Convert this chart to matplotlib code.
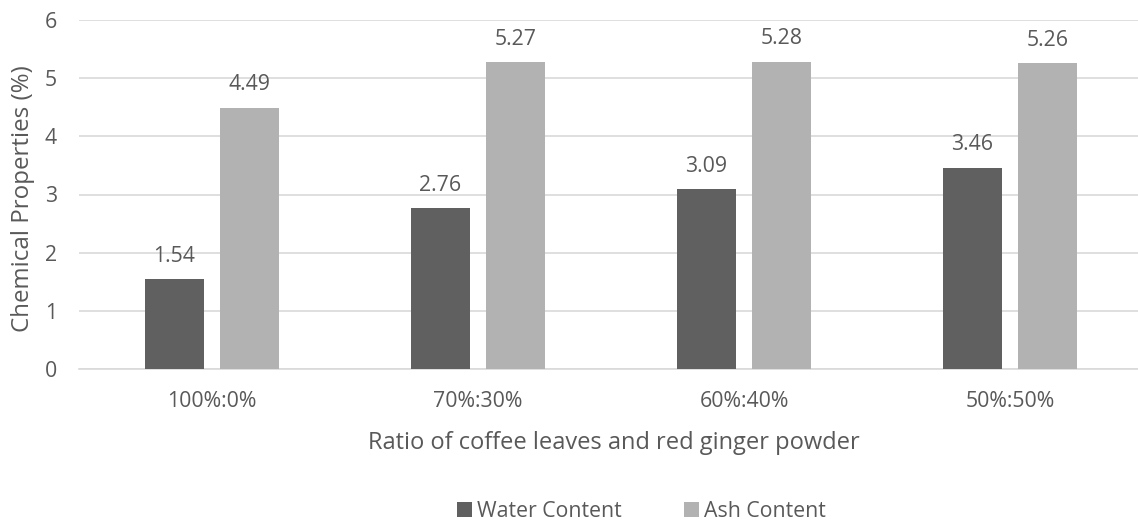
import matplotlib
matplotlib.use("Agg")
import matplotlib.pyplot as plt
import numpy as np

categories = ["100%:0%", "70%:30%", "60%:40%", "50%:50%"]
water_content = [1.54, 2.76, 3.09, 3.46]
ash_content = [4.49, 5.27, 5.28, 5.26]
series_names = ["Water Content", "Ash Content"]

plt.rcParams["font.family"] = ["Open Sans", "DejaVu Sans"]
text_color = "#595959"
dark = "#606060"
light = "#b2b2b2"
fs = 15.3

W, H = 1138, 522
fig = plt.figure(figsize=(W / 100, H / 100), dpi=100)
left_px, right_px, top_px, bottom_px = 79, 1138, 20, 369
ax = fig.add_axes([left_px / W, 1 - bottom_px / H, (right_px - left_px) / W, (bottom_px - top_px) / H])

x = np.arange(len(categories))
group_px = 266.0
width = 59 / group_px
offset = (59 + 16) / 2 / group_px

b1 = ax.bar(x - offset, water_content, width, color=dark, label=series_names[0], zorder=3)
b2 = ax.bar(x + offset, ash_content, width, color=light, label=series_names[1], zorder=3)

# value labels just above each bar
for bars, vals in ((b1, water_content), (b2, ash_content)):
    for rect, v in zip(bars, vals):
        ax.annotate(f"{v:.2f}", (rect.get_x() + rect.get_width() / 2, v),
                    xytext=(0, 12.6), textcoords="offset points",
                    ha="center", va="baseline", fontsize=fs, color=text_color)

ax.set_xlim(-0.5, -0.5 + (right_px - left_px) / group_px)
ax.set_ylim(0, 6)
ax.set_yticks(range(0, 7))
ax.set_xticks(x)
ax.set_xticklabels(categories)
ax.tick_params(axis="both", length=0, labelsize=fs, colors=text_color)
ax.tick_params(axis="y", pad=16)
ax.tick_params(axis="x", pad=15.5)
ax.grid(axis="y", color="#d9d9d9", linewidth=1.2, zorder=0)
for s in ("top", "right", "left"):
    ax.spines[s].set_visible(False)
ax.spines["bottom"].set_color("#d9d9d9")
ax.spines["bottom"].set_linewidth(1.2)

# axis titles
fig.text(614 / W, 1 - 449 / H, "Ratio of coffee leaves and red ginger powder",
         ha="center", va="baseline", fontsize=17, color=text_color)
fig.text(22.6 / W, 1 - 199 / H, "Chemical Properties (%)", rotation=90,
         ha="center", va="center", fontsize=17.4, color=text_color)

fig.legend(handles=[b1, b2], labels=series_names, loc="center", bbox_to_anchor=(0.5637, 0.0205),
           ncol=2, frameon=False, fontsize=fs, labelcolor=text_color,
           handlelength=0.71, handleheight=0.71, handletextpad=0.24, columnspacing=2.9)

fig.savefig("out.png", dpi=100)
